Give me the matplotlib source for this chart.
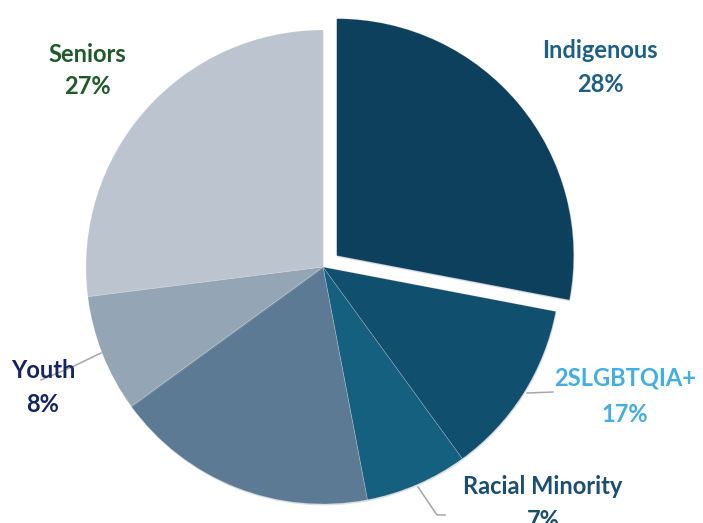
import matplotlib
matplotlib.use("Agg")
import matplotlib.pyplot as plt
from matplotlib import patheffects as pe

# ---- data ----
categories = ["Indigenous", "2SLGBTQIA+", "Racial Minority", "", "Youth", "Seniors"]
slice_values = [28, 12, 7, 18, 8, 27]          # share of the circle as drawn
shown_pct = [28, 17, 7, None, 8, 27]            # percentages printed in labels
colors = ["#0d405d", "#114f6e", "#16607f", "#5d7a94", "#94a5b6", "#bcc5cf"]
label_colors = ["#1f5f85", "#45aee0", "#1c4e6e", None, "#16255e", "#1e5a2a"]
explode = [0.075, 0, 0, 0, 0, 0]

# ---- figure: pie centre at pixel (323, 267), radius 237 px ----
W, H = 703, 523
CX, CY, R = 323, 267, 237
fig = plt.figure(figsize=(W / 100, H / 100), dpi=100)
ax = fig.add_axes([0, 0, 1, 1])

def px(x, y):
    return ((x - CX) / R, (CY - y) / R)

wedges, _ = ax.pie(slice_values, colors=colors, startangle=90, counterclock=False,
                   explode=explode, radius=1.0,
                   wedgeprops=dict(edgecolor=(1, 1, 1, 0.25), linewidth=0.5))
for w in wedges:
    w.set_path_effects([pe.SimplePatchShadow(offset=(0.5, -1), shadow_rgbFace="#9aa3ad", alpha=0.35),
                        pe.Normal()])

ax.set_aspect("auto")
ax.set_xlim(-CX / R, (W - CX) / R)
ax.set_ylim(-(H - CY) / R, CY / R)
ax.axis("off")

# label positions (pixel centres of first line / second line)
label_pos = {
    "Indigenous": (600, 51, 84),
    "2SLGBTQIA+": (625, 378, 414),
    "Racial Minority": (543, 487, 521),
    "Youth": (43, 370, 404),
    "Seniors": (87, 54, 87),
}

# leader lines
leaders = {
    "2SLGBTQIA+": [(527, 393), (553, 392)],
    "Racial Minority": [(418, 487), (437, 515), (445, 515)],
    "Youth": [(101, 353), (72, 367), (41, 380)],
}
for name, pts in leaders.items():
    xs, ys = zip(*[px(*p) for p in pts])
    ax.plot(xs, ys, color="#a6a6a6", lw=1.1, zorder=3)

for cat, pct, lc in zip(categories, shown_pct, label_colors):
    if not cat:
        continue
    x, y1, y2 = label_pos[cat]
    for txt, yy in ((cat, y1), (f"{pct}%", y2)):
        X, Y = px(x, yy)
        ax.text(X, Y, txt, ha="center", va="center", color=lc,
                fontsize=17, fontweight="bold", family=["Lato", "DejaVu Sans"], zorder=4)

fig.savefig("out.png", dpi=100)
